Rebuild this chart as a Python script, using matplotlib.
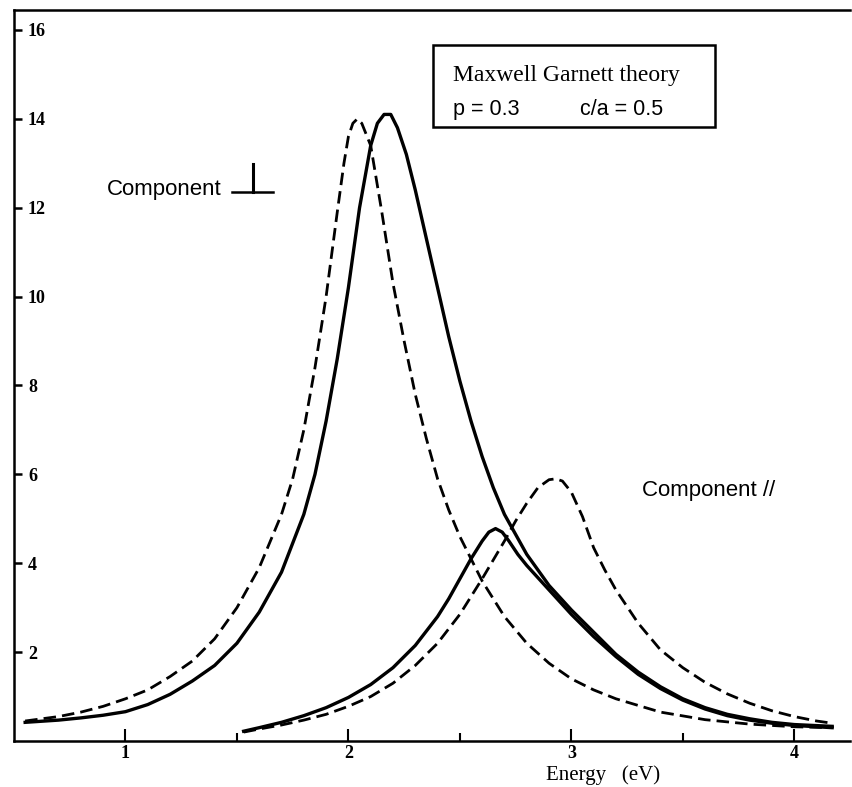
import numpy as np
import matplotlib.pyplot as plt

# Maxwell Garnett theory, p = 0.3, c/a = 0.5
# component perpendicular, dashed
x_perp_d = [0.55, 0.7, 0.8, 0.9, 1.0, 1.1, 1.2, 1.3, 1.4, 1.5, 1.6, 1.7, 1.75,
            1.8, 1.85, 1.9, 1.95, 1.98, 2.0, 2.02, 2.04, 2.06, 2.08, 2.1, 2.15,
            2.2, 2.25, 2.3, 2.35, 2.4, 2.45, 2.5, 2.6, 2.7, 2.8, 2.9, 3.0, 3.1,
            3.2, 3.3, 3.4, 3.6, 3.8, 4.0, 4.17]
y_perp_d = [0.45, 0.55, 0.65, 0.78, 0.95, 1.15, 1.45, 1.8, 2.3, 3.0, 3.9, 5.1, 5.9,
            7.0, 8.4, 10.0, 11.9, 13.0, 13.6, 13.9, 14.0, 13.9, 13.65, 13.4, 11.9,
            10.3, 9.0, 7.8, 6.8, 5.9, 5.2, 4.6, 3.6, 2.8, 2.2, 1.75, 1.4, 1.15,
            0.95, 0.8, 0.65, 0.48, 0.38, 0.32, 0.3]

# component perpendicular, solid
x_perp_s = [0.55, 0.7, 0.8, 0.9, 1.0, 1.1, 1.2, 1.3, 1.4, 1.5, 1.6, 1.7, 1.8,
            1.85, 1.9, 1.95, 2.0, 2.05, 2.1, 2.13, 2.16, 2.19, 2.22, 2.26, 2.3,
            2.35, 2.4, 2.45, 2.5, 2.55, 2.6, 2.65, 2.7, 2.8, 2.9, 3.0, 3.1, 3.2,
            3.3, 3.4, 3.5, 3.6, 3.7, 3.8, 3.9, 4.0, 4.17]
y_perp_s = [0.42, 0.47, 0.52, 0.58, 0.66, 0.82, 1.05, 1.35, 1.7, 2.2, 2.9, 3.8, 5.1,
            6.0, 7.2, 8.6, 10.2, 12.0, 13.4, 13.9, 14.1, 14.1, 13.8, 13.2, 12.4,
            11.3, 10.2, 9.1, 8.1, 7.2, 6.4, 5.7, 5.1, 4.2, 3.5, 2.95, 2.45, 1.95,
            1.55, 1.22, 0.95, 0.75, 0.6, 0.5, 0.42, 0.37, 0.33]

# component parallel, dashed
x_par_d = [1.53, 1.6, 1.7, 1.8, 1.9, 2.0, 2.1, 2.2, 2.3, 2.4, 2.5, 2.6, 2.7,
           2.75, 2.8, 2.85, 2.9, 2.93, 2.96, 3.0, 3.05, 3.1, 3.15, 3.2, 3.3,
           3.4, 3.5, 3.6, 3.7, 3.8, 3.9, 4.0, 4.1, 4.17]
y_par_d = [0.2, 0.27, 0.36, 0.47, 0.6, 0.78, 1.0, 1.3, 1.7, 2.2, 2.85, 3.65, 4.5,
           4.95, 5.35, 5.7, 5.88, 5.9, 5.85, 5.6, 5.05, 4.35, 3.85, 3.4, 2.65,
           2.05, 1.65, 1.32, 1.06, 0.85, 0.68, 0.55, 0.45, 0.4]

# component parallel, solid
x_par_s = [1.53, 1.6, 1.7, 1.8, 1.9, 2.0, 2.1, 2.2, 2.3, 2.4, 2.45, 2.5, 2.55,
           2.6, 2.63, 2.66, 2.69, 2.72, 2.76, 2.8, 2.9, 3.0, 3.1, 3.2, 3.3, 3.4,
           3.5, 3.6, 3.7, 3.8, 3.9, 4.0, 4.17]
y_par_s = [0.22, 0.3, 0.42, 0.57, 0.75, 0.98, 1.27, 1.65, 2.15, 2.8, 3.2, 3.65, 4.1,
           4.5, 4.7, 4.78, 4.7, 4.5, 4.2, 3.95, 3.4, 2.85, 2.35, 1.9, 1.5, 1.18,
           0.92, 0.72, 0.57, 0.47, 0.4, 0.35, 0.3]

xticks = [1, 2, 3, 4]
xminor = [1.5, 2.5, 3.5]
yticks = [2, 4, 6, 8, 10, 12, 14, 16]

serif = ['Liberation Serif', 'DejaVu Serif']
sans = ['Liberation Sans', 'DejaVu Sans']

fig = plt.figure(figsize=(8.53, 7.87), dpi=100)
ax = fig.add_axes([14/853, 1-741/787, 836/853, 731/787])

dash = (4.5, 2.2)
ax.plot(x_perp_d, y_perp_d, color='black', lw=2.0, ls=(0, dash))
ax.plot(x_perp_s, y_perp_s, color='black', lw=2.4, solid_joinstyle='round')
ax.plot(x_par_d, y_par_d, color='black', lw=2.0, ls=(0, dash))
ax.plot(x_par_s, y_par_s, color='black', lw=2.4, solid_joinstyle='round')

ax.set_xlim(0.5, 4.25)
ax.set_ylim(0, 16.45)

ax.spines['right'].set_visible(False)
for s in ax.spines.values():
    s.set_linewidth(1.8)

ax.set_xticks(xticks)
ax.set_xticks(xminor, minor=True)
ax.set_yticks(yticks)
ax.tick_params(axis='x', which='major', direction='in', length=9, width=1.5, pad=3)
ax.tick_params(axis='x', which='minor', direction='in', length=6, width=1.5)
ax.tick_params(axis='y', direction='in', length=6, width=1.8, pad=-10)
for lab in ax.get_yticklabels():
    lab.set_horizontalalignment('left')
    lab.set_fontfamily(serif)
    lab.set_fontsize(13)
    lab.set_fontweight('bold')
for lab in ax.get_xticklabels():
    lab.set_fontfamily(serif)
    lab.set_fontsize(13)
    lab.set_fontweight('bold')

ax.set_xlabel('Energy   (eV)', family=serif, fontsize=15)
ax.xaxis.set_label_coords(0.705, -0.033)

# legend box
ax.add_patch(plt.Rectangle((0.501, 0.840), 0.3375, 0.112, transform=ax.transAxes,
                           fill=False, lw=1.8, color='black'))
ax.text(0.525, 0.911, 'Maxwell Garnett theory', transform=ax.transAxes,
        family=serif, fontsize=17, va='center', ha='left')
ax.text(0.525, 0.864, 'p = 0.3', transform=ax.transAxes,
        family=sans, fontsize=15.5, va='center', ha='left')
ax.text(0.677, 0.864, 'c/a = 0.5', transform=ax.transAxes,
        family=sans, fontsize=15.5, va='center', ha='left')

# component labels
ax.text(0.111, 0.755, 'Component', transform=ax.transAxes,
        family=sans, fontsize=16, va='center', ha='left')
ax.plot([0.261, 0.310], [0.751, 0.751], transform=ax.transAxes,
        color='black', lw=1.8, clip_on=False)
ax.plot([0.286, 0.286], [0.751, 0.790], transform=ax.transAxes,
        color='black', lw=2.2, clip_on=False)
ax.text(0.751, 0.343, 'Component //', transform=ax.transAxes,
        family=sans, fontsize=16, va='center', ha='left')

fig.savefig('out.png', dpi=100)
